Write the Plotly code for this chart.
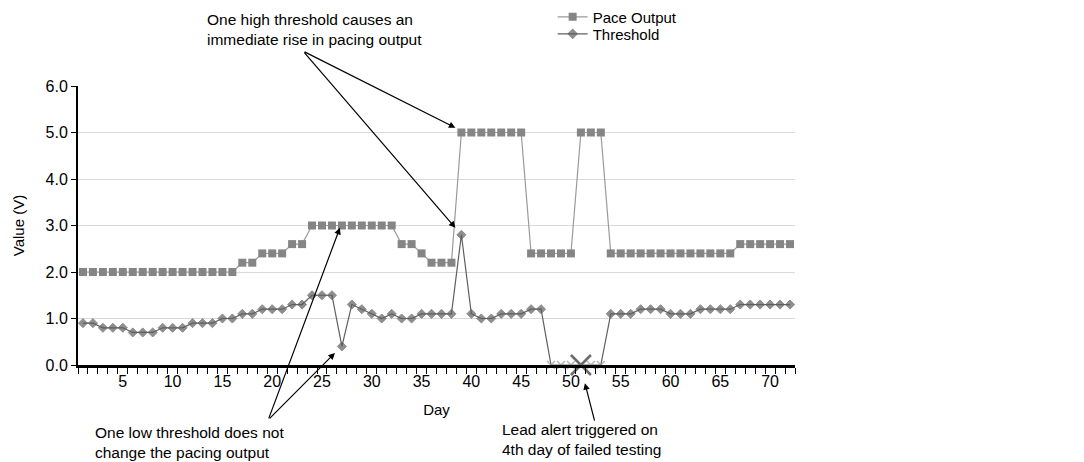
import plotly.graph_objects as go

# data
days = list(range(1, 73))
pace_output = [2.0, 2.0, 2.0, 2.0, 2.0, 2.0, 2.0, 2.0, 2.0, 2.0,
               2.0, 2.0, 2.0, 2.0, 2.0, 2.0, 2.2, 2.2, 2.4, 2.4,
               2.4, 2.6, 2.6, 3.0, 3.0, 3.0, 3.0, 3.0, 3.0, 3.0,
               3.0, 3.0, 2.6, 2.6, 2.4, 2.2, 2.2, 2.2, 5.0, 5.0,
               5.0, 5.0, 5.0, 5.0, 5.0, 2.4, 2.4, 2.4, 2.4, 2.4,
               5.0, 5.0, 5.0, 2.4, 2.4, 2.4, 2.4, 2.4, 2.4, 2.4,
               2.4, 2.4, 2.4, 2.4, 2.4, 2.4, 2.6, 2.6, 2.6, 2.6,
               2.6, 2.6]
threshold = [0.9, 0.9, 0.8, 0.8, 0.8, 0.7, 0.7, 0.7, 0.8, 0.8,
             0.8, 0.9, 0.9, 0.9, 1.0, 1.0, 1.1, 1.1, 1.2, 1.2,
             1.2, 1.3, 1.3, 1.5, 1.5, 1.5, 0.4, 1.3, 1.2, 1.1,
             1.0, 1.1, 1.0, 1.0, 1.1, 1.1, 1.1, 1.1, 2.8, 1.1,
             1.0, 1.0, 1.1, 1.1, 1.1, 1.2, 1.2, 0.0, 0.0, 0.0,
             0.0, 0.0, 0.0, 1.1, 1.1, 1.1, 1.2, 1.2, 1.2, 1.1,
             1.1, 1.1, 1.2, 1.2, 1.2, 1.2, 1.3, 1.3, 1.3, 1.3,
             1.3, 1.3]
failed_days = [48, 49, 50, 51, 52, 53]
alert_day = [51]
alert_value = [0.0]

x_tick_vals = [5, 10, 15, 20, 25, 30, 35, 40, 45, 50, 55, 60, 65, 70]
y_tick_vals = [0, 1, 2, 3, 4, 5, 6]

FONT = "Liberation Sans, Arial, sans-serif"

# failed test days get a small light x instead of a diamond
th_symbols = ["x-thin" if d in failed_days else "diamond" for d in days]
th_sizes = [8 if d in failed_days else 7 for d in days]
th_lines = ["#9a9a9a" if d in failed_days else "#5f5f5f" for d in days]
th_lw = [1.6 if d in failed_days else 1 for d in days]

fig = go.Figure()

fig.add_trace(go.Scatter(
    x=days, y=pace_output, name="Pace Output", mode="lines+markers",
    line=dict(color="#9a9a9a", width=1.2),
    marker=dict(symbol="square", size=8, color="#858585"),
    legend="legend",
))
fig.add_trace(go.Scatter(
    x=days, y=threshold, name="Threshold", mode="lines+markers",
    line=dict(color="#5f5f5f", width=1.2),
    marker=dict(symbol=th_symbols, size=th_sizes, color="#5f5f5f",
                line=dict(color=th_lines, width=th_lw)),
    cliponaxis=False, legend="legend2",
))
# lead alert marker
fig.add_trace(go.Scatter(
    x=alert_day, y=alert_value, mode="markers", showlegend=False,
    marker=dict(symbol="x-thin", size=20, line=dict(color="#6b6b6b", width=2.5)),
    cliponaxis=False,
))

arrow = dict(showarrow=True, arrowhead=2, arrowsize=1.1, arrowwidth=1.2,
             arrowcolor="black", text="", axref="x", ayref="y")

# high threshold arrows
fig.add_annotation(x=38.4, y=5.1, ax=23.1, ay=6.75, **arrow)
fig.add_annotation(x=38.4, y=2.95, ax=23.1, ay=6.75, **arrow)
# low threshold arrows
fig.add_annotation(x=26.8, y=2.95, ax=19.6, ay=-1.18, **arrow)
fig.add_annotation(x=26.3, y=0.26, ax=19.6, ay=-1.18, **arrow)
# lead alert arrow
fig.add_annotation(x=0.707, y=-0.065, xref="paper", yref="paper",
                   ax=10, ay=39, showarrow=True, arrowhead=2, arrowsize=1.1,
                   arrowwidth=1.2, arrowcolor="black", text="")

txt = dict(xref="paper", yref="paper", showarrow=False, xanchor="left",
           yanchor="top", align="left", font=dict(family=FONT, size=15.5, color="black"))
fig.add_annotation(x=0.177, y=1.276,
                   text="One high threshold causes an<br>immediate rise in pacing output", **txt)
fig.add_annotation(x=0.021, y=-0.204,
                   text="One low threshold does not<br>change the pacing output", **txt)
fig.add_annotation(x=0.589, y=-0.194,
                   text="Lead alert triggered on<br>4th day of failed testing", **txt)

leg = dict(x=0.662, xanchor="left", yanchor="middle", bgcolor="rgba(0,0,0,0)",
           font=dict(size=15))

# page body adds 8px on the left/top, so the figure is trimmed to fit the window
fig.update_layout(
    width=1076, height=454,
    margin=dict(l=70, r=289, t=78, b=97, autoexpand=False),
    paper_bgcolor="white", plot_bgcolor="white",
    font=dict(family=FONT, size=15, color="black"),
    showlegend=True,
    legend=dict(y=1.247, **leg),
    legend2=dict(y=1.186, **leg),
    xaxis=dict(
        range=[0.5, 72.5], tickvals=x_tick_vals, ticks="", showgrid=False,
        zeroline=False, showline=True, linecolor="black", linewidth=2.5,
        minor=dict(tick0=0.5, dtick=1, ticks="outside", ticklen=6,
                   tickcolor="black", tickwidth=1, showgrid=False),
        title=dict(text="Day", standoff=16, font=dict(size=15)),
        tickfont=dict(size=16), automargin=False,
    ),
    yaxis=dict(
        range=[0, 6], tickvals=y_tick_vals, tickformat=".1f",
        ticks="outside", ticklen=5, tickcolor="black",
        showgrid=True, gridcolor="#d9d9d9", gridwidth=1, zeroline=False,
        showline=True, linecolor="black", linewidth=2,
        title=dict(text="Value (V)", standoff=17, font=dict(size=15)),
        tickfont=dict(size=16), automargin=False,
    ),
)

fig.write_html("out.html")
